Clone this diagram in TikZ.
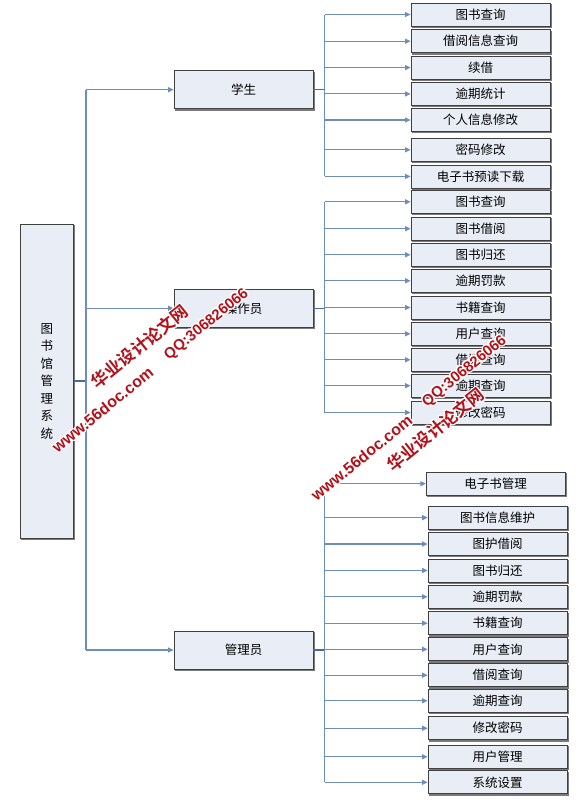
\documentclass[tikz,border=0pt]{standalone}
\usepackage{fontspec}
\setmainfont{Liberation Sans}
\newfontfamily\cjk{Noto Sans CJK SC}
\newfontfamily\cjkb{Noto Sans CJK SC Bold}
\newfontfamily\wmlat{Liberation Sans Bold}
\usepackage{contour}
\contourlength{1.2pt}
\usetikzlibrary{arrows.meta}
\definecolor{boxfill}{HTML}{E8EDF6}
\definecolor{boxline}{HTML}{404040}
\definecolor{shadowc}{HTML}{7A7A7A}
\definecolor{linec}{HTML}{6E8DBE}
\definecolor{linedark}{HTML}{4A6A9C}
\definecolor{wmred}{HTML}{B3121A}
\begin{document}
\begin{tikzpicture}[x=1pt,y=-1pt,
  boxs/.style={draw=boxline,line width=0.8pt,fill=boxfill,minimum width=139pt,minimum height=23pt,inner sep=0pt,font=\cjk\fontsize{12.5}{14}\selectfont},
  rolebox/.style={boxs,minimum height=38pt},
  rootbox/.style={boxs,minimum width=53.6pt,minimum height=314pt,align=center,font=\cjk\fontsize{12.5}{17.5}\selectfont},
  shadowed/.style={preaction={fill=shadowc,draw=shadowc,transform canvas={shift={(1.2pt,-1.2pt)}}}},
  busline/.style={draw=linec,line width=1.1pt},
  joinline/.style={draw=linedark,line width=1.3pt},
  arr/.style={busline,-{Triangle[length=5.5pt,width=5pt]}},
  wm/.style={text=wmred,rotate=39,inner sep=0pt}
]
\useasboundingbox (0,0) rectangle (580,804);
% root
\node[rootbox,shadowed] (root) at (46.8,381) {图\\书\\馆\\管\\理\\系\\统};
% roles
\node[rolebox,shadowed] (s) at (243.5,89.7) {学生};
\node[rolebox,shadowed] (o) at (243.5,308.3) {操作员};
\node[rolebox,shadowed] (a) at (243.5,650) {管理员};
% student items
\node[boxs,shadowed] (s1) at (480.5,14.5) {图书查询};
\node[boxs,shadowed] (s2) at (480.5,41.2) {借阅信息查询};
\node[boxs,shadowed] (s3) at (480.5,67.6) {续借};
\node[boxs,shadowed] (s4) at (480.5,93.9) {逾期统计};
\node[boxs,shadowed] (s5) at (480.5,120) {个人信息修改};
\node[boxs,shadowed] (s6) at (480.5,149.8) {密码修改};
\node[boxs,shadowed] (s7) at (480.5,176.4) {电子书预读下载};
% operator items
\node[boxs,shadowed] (o1) at (480.5,201.8) {图书查询};
\node[boxs,shadowed] (o2) at (480.5,228.7) {图书借阅};
\node[boxs,shadowed] (o3) at (480.5,254.8) {图书归还};
\node[boxs,shadowed] (o4) at (480.5,280.8) {逾期罚款};
\node[boxs,shadowed] (o5) at (480.5,307.5) {书籍查询};
\node[boxs,shadowed] (o6) at (480.5,333.8) {用户查询};
\node[boxs,shadowed] (o7) at (480.5,359.8) {借阅查询};
\node[boxs,shadowed] (o8) at (480.5,385.7) {逾期查询};
\node[boxs,shadowed] (o9) at (480.5,412.5) {修改密码};
% admin items
\node[boxs,shadowed] (m1) at (495.7,483.7) {电子书管理};
\node[boxs,shadowed] (m2) at (497.6,517.6) {图书信息维护};
\node[boxs,shadowed] (m3) at (497.6,544) {图护借阅};
\node[boxs,shadowed] (m4) at (497.6,570.5) {图书归还};
\node[boxs,shadowed] (m5) at (497.6,596.8) {逾期罚款};
\node[boxs,shadowed] (m6) at (497.6,623.2) {书籍查询};
\node[boxs,shadowed] (m7) at (497.6,649.3) {用户查询};
\node[boxs,shadowed] (m8) at (497.6,675.2) {借阅查询};
\node[boxs,shadowed] (m9) at (497.6,700.8) {逾期查询};
\node[boxs,shadowed] (m10) at (497.6,728.2) {修改密码};
\node[boxs,shadowed] (m11) at (497.6,756.8) {用户管理};
\node[boxs,shadowed] (m12) at (497.6,782.3) {系统设置};
% bus coordinates
\coordinate (mb) at (86,0);
\coordinate (rb) at (324.5,0);
% main bus
\draw[joinline] (root.east) -- (root.east -| mb);
\draw[busline] (s.west -| mb) -- (a.west -| mb);
\foreach \r in {s,o,a} \draw[arr] (\r.west -| mb) -- (\r.west);
% student bus
\draw[joinline] (s.east) -- (s.east -| rb);
\draw[busline] (s1.west -| rb) -- (s7.west -| rb);
\foreach \i in {1,...,7} \draw[arr] (s\i.west -| rb) -- (s\i.west);
% operator bus
\draw[joinline] (o.east) -- (o.east -| rb);
\draw[busline] (o1.west -| rb) -- (o9.west -| rb);
\foreach \i in {1,...,9} \draw[arr] (o\i.west -| rb) -- (o\i.west);
% admin bus
\draw[joinline] (a.east) -- (a.east -| rb);
\draw[busline] (m1.west -| rb) -- (m12.west -| rb);
\foreach \i in {1,...,12} \draw[arr] (m\i.west -| rb) -- (m\i.west);
% watermarks
\node[wm,font=\wmlat\fontsize{16}{16}\selectfont] (w1) at (103,410) {\contour{white}{www.56doc.com}};
\node[wm,font=\cjkb\fontsize{17}{17}\selectfont] (w2) at (140,347) {\contour{white}{华业设计论文网}};
\node[wm,font=\wmlat\fontsize{15}{15}\selectfont] (w3) at (207,325) {\contour{white}{QQ:306826066}};
\node[wm,font=\wmlat\fontsize{16}{16}\selectfont] (w4) at (362,458) {\contour{white}{www.56doc.com}};
\node[wm,font=\cjkb\fontsize{17}{17}\selectfont] (w5) at (436,430) {\contour{white}{华业设计论文网}};
\node[wm,font=\wmlat\fontsize{15}{15}\selectfont] (w6) at (465,372) {\contour{white}{QQ:306826066}};
\end{tikzpicture}
\end{document}
